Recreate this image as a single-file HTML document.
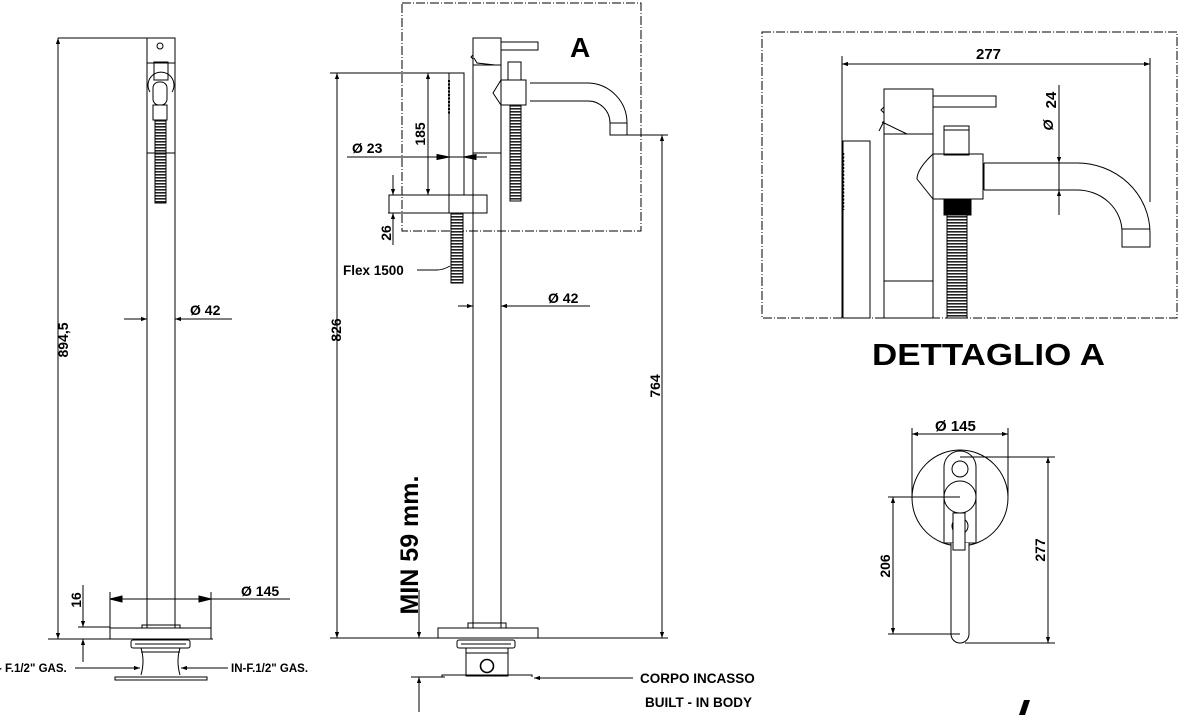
<!DOCTYPE html>
<html><head><meta charset="utf-8"><style>
html,body{margin:0;padding:0;background:#fff;}
svg{display:block;}
text{font-family:"Liberation Sans",Arial,sans-serif;font-weight:bold;fill:#000;}
</style></head><body>
<svg width="1202" height="715" viewBox="0 0 1202 715" xmlns="http://www.w3.org/2000/svg">
<defs>
<marker id="a" viewBox="0 0 10 10" refX="10" refY="5" markerWidth="10" markerHeight="6" orient="auto-start-reverse" markerUnits="userSpaceOnUse"><path d="M0,1.5 L10,5 L0,8.5 z" fill="#000"/></marker>
<pattern id="hose" width="12" height="3" patternUnits="userSpaceOnUse"><rect width="12" height="3" fill="#fff"/><rect y="0" width="12" height="1.6" fill="#222"/></pattern>
</defs>
<g fill="none" stroke="#000" stroke-width="1">
<!-- LEFT VIEW -->
<line x1="58" y1="38" x2="147" y2="38"/>
<line x1="58" y1="639" x2="58" y2="38" marker-end="url(#a)"/>
<line x1="58" y1="38" x2="58" y2="639" marker-end="url(#a)"/>
<rect x="147" y="38" width="28" height="590"/>
<circle cx="160" cy="46" r="3"/>
<line x1="147" y1="63" x2="175" y2="63"/>
<rect x="154" y="62" width="14" height="18"/>
<path d="M150,92 A13,13 0 1 1 172,92"/>
<rect x="153" y="82" width="14" height="23" rx="6"/>
<rect x="153" y="105" width="14" height="15"/>
<rect x="155" y="120" width="11" height="83" fill="url(#hose)"/>
<line x1="147" y1="153" x2="175" y2="153"/>
<!-- Ø42 -->
<line x1="124" y1="319" x2="147" y2="319" marker-end="url(#a)"/>
<line x1="198" y1="319" x2="175" y2="319" marker-end="url(#a)"/>
<line x1="175" y1="319" x2="232" y2="319"/>
<!-- base -->
<rect x="142" y="625" width="38" height="3"/>
<rect x="110" y="628" width="101" height="11"/>
<line x1="48" y1="639" x2="213" y2="639"/>
<line x1="110" y1="592" x2="110" y2="628"/>
<line x1="211" y1="592" x2="211" y2="628"/>
<line x1="110" y1="599" x2="290" y2="599"/>
<path d="M110,599 l12,-3 v6z M211,599 l-12,-3 v6z" fill="#000"/>
<line x1="78" y1="627" x2="110" y2="627"/>
<line x1="83" y1="585" x2="83" y2="627" marker-end="url(#a)"/>
<line x1="83" y1="662" x2="83" y2="639" marker-end="url(#a)"/>
<rect x="131" y="640" width="59" height="8" rx="2"/>
<line x1="135" y1="644" x2="186" y2="644"/>
<path d="M141,648 q4,13 0,27 M180,648 q-4,13 0,27"/>
<line x1="141" y1="652" x2="180" y2="652"/>
<rect x="115" y="677" width="92" height="3"/>
<line x1="75" y1="668" x2="140" y2="668" marker-end="url(#a)"/>
<line x1="228" y1="668" x2="181" y2="668" marker-end="url(#a)"/>

<!-- MIDDLE VIEW -->
<rect x="402" y="3" width="239" height="228" stroke-dasharray="9,2,1,2"/>
<rect x="473" y="38" width="28" height="27"/>
<rect x="501" y="42" width="37" height="8"/>
<path d="M473,55 l-2,2 l2,2 M474,58 l3,5 l18,2"/>
<rect x="473" y="65" width="28" height="88"/>
<line x1="473" y1="153" x2="473" y2="628"/>
<line x1="501" y1="153" x2="501" y2="628"/>
<rect x="508" y="62" width="13" height="18"/>
<path d="M501,80 h25 v25 h-25 l-8,-12 z M493,93 l8,-13"/>
<path d="M530,83 h58 a40,40 0 0 1 39,40 v12 h-17 v-12 a22,22 0 0 0 -22,-22 h-58"/>
<line x1="610" y1="123" x2="627" y2="123"/>
<rect x="510" y="105" width="11" height="96" fill="url(#hose)"/>
<!-- shower rod -->
<rect x="449" y="73" width="15" height="122"/>
<line x1="449" y1="80" x2="449" y2="115" stroke-dasharray="2,1.5" stroke-width="2"/>
<rect x="389" y="195" width="98" height="18"/>
<line x1="449" y1="195" x2="449" y2="213"/>
<rect x="451" y="213" width="12" height="70" fill="url(#hose)"/>
<line x1="330" y1="73" x2="464" y2="73"/>
<line x1="337" y1="638" x2="337" y2="73" marker-end="url(#a)"/>
<line x1="337" y1="73" x2="337" y2="638" marker-end="url(#a)"/>
<line x1="428" y1="195" x2="428" y2="73" marker-end="url(#a)"/>
<line x1="428" y1="73" x2="428" y2="195" marker-end="url(#a)"/>
<line x1="347" y1="157" x2="487" y2="157"/>
<path d="M449,157 l-12,-2.5 v5z M464,157 l12,-2.5 v5z" fill="#000"/>
<line x1="388" y1="213" x2="449" y2="213"/>
<line x1="393" y1="175" x2="393" y2="195" marker-end="url(#a)"/>
<line x1="393" y1="245" x2="393" y2="213" marker-end="url(#a)"/>
<path d="M417,270 h20 q6,0 13,-4"/>
<line x1="458" y1="306" x2="473" y2="306" marker-end="url(#a)"/>
<line x1="516" y1="306" x2="501" y2="306" marker-end="url(#a)"/>
<line x1="501" y1="306" x2="590" y2="306"/>
<line x1="627" y1="135" x2="668" y2="135"/>
<line x1="662" y1="638" x2="662" y2="135" marker-end="url(#a)"/>
<line x1="662" y1="135" x2="662" y2="638" marker-end="url(#a)"/>
<rect x="468" y="623" width="38" height="5"/>
<rect x="438" y="628" width="100" height="10"/>
<line x1="330" y1="638" x2="668" y2="638"/>
<line x1="419" y1="590" x2="419" y2="638" marker-end="url(#a)"/>
<line x1="419" y1="712" x2="419" y2="677" marker-end="url(#a)"/>
<line x1="411" y1="677" x2="445" y2="677"/>
<rect x="457" y="640" width="58" height="8" rx="2"/>
<line x1="461" y1="644" x2="511" y2="644"/>
<rect x="466" y="648" width="42" height="28"/>
<line x1="466" y1="653" x2="508" y2="653"/>
<circle cx="487" cy="666" r="6.5" stroke-width="1.6"/>
<path d="M442,677 v-2 h90 v2"/>
<line x1="633" y1="678" x2="534" y2="678" marker-end="url(#a)"/>

<!-- DETAIL A -->
<rect x="762" y="32" width="415" height="286" stroke-dasharray="9,2,1,2"/>
<line x1="842" y1="56" x2="842" y2="318"/>
<line x1="1150" y1="58" x2="1150" y2="202"/>
<line x1="842" y1="64" x2="1150" y2="64" marker-end="url(#a)"/>
<line x1="1150" y1="64" x2="842" y2="64" marker-end="url(#a)"/>
<rect x="843" y="141" width="27" height="177"/>
<line x1="843" y1="153" x2="843" y2="210" stroke-dasharray="2,1.5" stroke-width="2.5"/>
<rect x="884" y="89" width="49" height="45"/>
<rect x="933" y="96" width="63" height="11"/>
<path d="M884,107 l-3,3 l3,3 M884,121 l-5,10 M882,122 l25,12"/>
<rect x="884" y="134" width="49" height="184"/>
<line x1="884" y1="281" x2="933" y2="281"/>
<rect x="944" y="126" width="25" height="29"/>
<rect x="944" y="126" width="25" height="4"/>
<path d="M933,154 h50 v45 h-50 l-16,-20 q0,-10 16,-25 z"/>
<line x1="984" y1="163" x2="984" y2="190"/>
<path d="M984,163 h92 a73,70 0 0 1 74,70 v14 h-28 v-14 a45,42 0 0 0 -46,-43 h-92"/>
<line x1="1122" y1="229" x2="1150" y2="229"/>
<rect x="944" y="199" width="27" height="16" fill="#000"/>
<rect x="947" y="215" width="20" height="103" fill="url(#hose)"/>
<line x1="1059" y1="85" x2="1059" y2="163" marker-end="url(#a)"/>
<line x1="1059" y1="215" x2="1059" y2="190" marker-end="url(#a)"/>
<line x1="1059" y1="163" x2="1059" y2="190"/>

<!-- PLAN VIEW -->
<circle cx="960" cy="498" r="48"/>
<path d="M944,543 V467 a16,16 0 0 1 32,0 V543 z" fill="#fff"/>
<circle cx="960" cy="469" r="8"/>
<circle cx="960" cy="526" r="8"/>
<circle cx="960" cy="497" r="16" fill="#fff"/>
<path d="M951,543 V634 a9,9 0 0 0 18,0 V543" fill="#fff"/>
<rect x="953" y="513" width="12" height="37" fill="#fff"/>
<line x1="912" y1="428" x2="912" y2="496"/>
<line x1="1008" y1="428" x2="1008" y2="496"/>
<line x1="912" y1="434" x2="1008" y2="434" marker-end="url(#a)"/>
<line x1="1008" y1="434" x2="912" y2="434" marker-end="url(#a)"/>
<line x1="960" y1="457" x2="1055" y2="457"/>
<line x1="965" y1="643" x2="1055" y2="643"/>
<line x1="1048" y1="643" x2="1048" y2="457" marker-end="url(#a)"/>
<line x1="1048" y1="457" x2="1048" y2="643" marker-end="url(#a)"/>
<line x1="888" y1="497" x2="960" y2="497"/>
<line x1="888" y1="634" x2="960" y2="634"/>
<line x1="893" y1="634" x2="893" y2="497" marker-end="url(#a)"/>
<line x1="893" y1="497" x2="893" y2="634" marker-end="url(#a)"/>
</g>
<path d="M1024,700 h6 l-5,15 h-6 z" fill="#000"/>

<!-- TEXT -->
<g font-size="14">
<text x="190" y="315">Ø 42</text>
<text x="241" y="596">Ø 145</text>
<text x="-2" y="672" font-size="11.5">- F.1/2" GAS.</text>
<text x="231" y="672" font-size="11.5">IN-F.1/2" GAS.</text>
<text transform="translate(68,340) rotate(-90)" text-anchor="middle">894,5</text>
<text transform="translate(81,600) rotate(-90)" text-anchor="middle">16</text>
<text x="352" y="153">Ø  23</text>
<text transform="translate(425,134) rotate(-90)" text-anchor="middle">185</text>
<text transform="translate(391,233) rotate(-90)" text-anchor="middle">26</text>
<text x="343" y="275" font-size="13.5">Flex 1500</text>
<text x="548" y="303">Ø 42</text>
<text transform="translate(341,330) rotate(-90)" text-anchor="middle">826</text>
<text transform="translate(660,386) rotate(-90)" text-anchor="middle">764</text>
<text transform="translate(418,545) rotate(-90)" text-anchor="middle" font-size="25">MIN 59 mm.</text>
<text x="640" y="683" font-size="13.5">CORPO INCASSO</text>
<text x="645" y="707" font-size="13.5">BUILT - IN BODY</text>
<text x="570" y="57" font-size="28">A</text>
<text x="976" y="59" font-size="15">277</text>
<text transform="translate(1056,100) rotate(-90)" text-anchor="middle" font-size="15">24</text>
<text transform="translate(1053,125) rotate(-90)" text-anchor="middle" font-weight="normal" font-style="italic">Ø</text>
<text x="872" y="365" font-size="31" textLength="233" lengthAdjust="spacingAndGlyphs">DETTAGLIO A</text>
<text x="935" y="431" font-size="15">Ø 145</text>
<text transform="translate(1045,550) rotate(-90)" text-anchor="middle">277</text>
<text transform="translate(890,566) rotate(-90)" text-anchor="middle">206</text>
</g>
</svg>
</body></html>
